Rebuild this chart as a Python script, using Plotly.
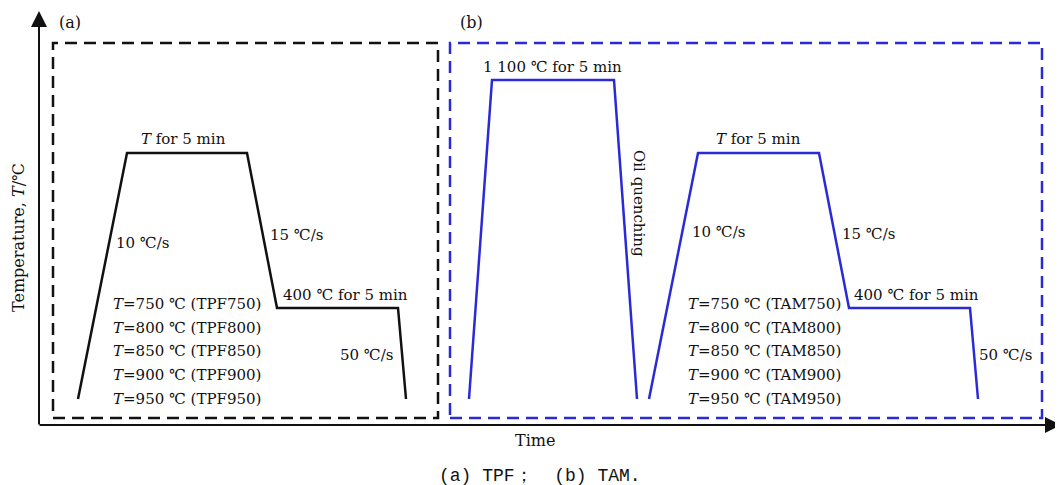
import plotly.graph_objects as go

# ---- schematic data (time / temperature, schematic units) ----
time_a = [78, 127, 247, 277, 398, 406]
temp_a = [86, 332, 332, 177, 177, 86]

time_b1 = [469, 492, 614, 637]
temp_b1 = [86, 405, 405, 86]

time_b2 = [649, 698, 819, 849, 970, 978]
temp_b2 = [86, 332, 332, 177, 177, 86]

temp_lines_a = ["<i>T</i>=750 ℃ (TPF750)", "<i>T</i>=800 ℃ (TPF800)", "<i>T</i>=850 ℃ (TPF850)",
                "<i>T</i>=900 ℃ (TPF900)", "<i>T</i>=950 ℃ (TPF950)"]
temp_lines_b = ["<i>T</i>=750 ℃ (TAM750)", "<i>T</i>=800 ℃ (TAM800)", "<i>T</i>=850 ℃ (TAM850)",
                "<i>T</i>=900 ℃ (TAM900)", "<i>T</i>=950 ℃ (TAM950)"]

W, H = 1063, 485
OFF = 8  # default page body margin
BLUE = "#2a2ad6"
FONT = "DejaVu Serif"
FS = 15

def Y(py):
    return H - py

fig = go.Figure()
fig.add_trace(go.Scatter(x=time_a, y=temp_a, mode="lines",
                         line=dict(color="#111111", width=2.5), hoverinfo="skip"))
fig.add_trace(go.Scatter(x=time_b1, y=temp_b1, mode="lines",
                         line=dict(color=BLUE, width=2.5), hoverinfo="skip"))
fig.add_trace(go.Scatter(x=time_b2, y=temp_b2, mode="lines",
                         line=dict(color=BLUE, width=2.5), hoverinfo="skip"))

shapes = [
    dict(type="rect", xref="x", yref="y", x0=53, x1=438, y0=Y(418), y1=Y(43),
         line=dict(color="#111111", width=2.5, dash="12px,7px")),
    dict(type="rect", xref="x", yref="y", x0=450, x1=1042, y0=Y(418), y1=Y(43),
         line=dict(color=BLUE, width=2.5, dash="12px,7px")),
]

ann = []
def txt(x, y, s, size=FS, family=FONT, **kw):
    d = dict(x=x, y=Y(y), xref="x", yref="y", text=s, showarrow=False,
             font=dict(family=family, size=size, color="#111111"),
             xanchor="center", yanchor="middle")
    d.update(kw)
    ann.append(d)

# axes arrows
ann.append(dict(x=39, y=Y(11), ax=39, ay=Y(426), xref="x", yref="y", axref="x", ayref="y",
                text="", showarrow=True, arrowhead=2, arrowsize=1.6, arrowwidth=2, arrowcolor="#111111"))
ann.append(dict(x=1061, y=Y(425), ax=38, ay=Y(425), xref="x", yref="y", axref="x", ayref="y",
                text="", showarrow=True, arrowhead=2, arrowsize=1.6, arrowwidth=2, arrowcolor="#111111"))

txt(18, 238, "Temperature, <i>T</i>/℃", size=16, textangle=-90)
txt(535, 440, "Time", size=16)
txt(540, 476, "(a) TPF；  (b) TAM.", size=18, family="Liberation Mono")

txt(70, 22, "(a)", size=16)
txt(471, 22, "(b)", size=16)

# panel (a)
txt(183, 139, "<i>T</i> for 5 min")
txt(142, 243, "10 ℃/s")
txt(296, 235, "15 ℃/s")
txt(345, 295, "400 ℃ for 5 min")
txt(366, 355, "50 ℃/s")
for i, s in enumerate(temp_lines_a):
    txt(187, 304 + i * 23.7, s)

# panel (b)
txt(552, 67, "1 100 ℃ for 5 min")
txt(639, 203, "Oil quenching", textangle=90)
txt(758, 139, "<i>T</i> for 5 min")
txt(718, 232, "10 ℃/s")
txt(868, 234, "15 ℃/s")
txt(916, 295, "400 ℃ for 5 min")
txt(1005, 355, "50 ℃/s")
for i, s in enumerate(temp_lines_b):
    txt(764, 304 + i * 23.7, s)

fig.update_layout(
    width=W - OFF, height=H - OFF, margin=dict(l=0, r=0, t=0, b=0),
    paper_bgcolor="white", plot_bgcolor="white", showlegend=False,
    xaxis=dict(range=[OFF, W], visible=False, fixedrange=True),
    yaxis=dict(range=[0, H - OFF], visible=False, fixedrange=True),
    shapes=shapes, annotations=ann,
)
fig.write_html("out.html")
